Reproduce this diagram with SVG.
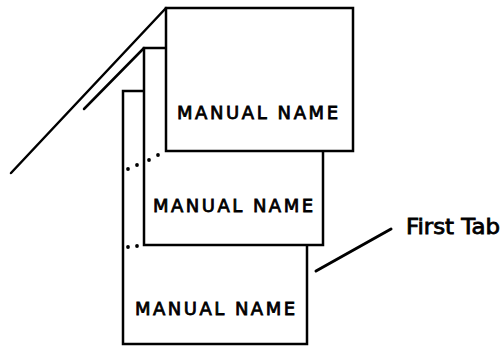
<svg xmlns="http://www.w3.org/2000/svg" width="504" height="346" viewBox="0 0 504 346">
<style>
.box{fill:#fff;stroke:#000;stroke-width:2.5}
.ln{stroke:#000;stroke-width:2.5;fill:none;stroke-linecap:round}
.lbl{font-family:"DejaVu Sans","Liberation Sans",Arial,sans-serif;font-size:18px;fill:#000;stroke:#000;stroke-width:0.8}
.dot{fill:#000}
</style>
<rect width="504" height="346" fill="#fff"/>
<g id="connectors">
<line class="ln" x1="11" y1="173" x2="166" y2="8"/>
<line class="ln" x1="84" y1="109" x2="144" y2="48"/>
<line class="ln" x1="316" y1="271" x2="391" y2="229" style="stroke-width:3"/>
</g>
<g id="tab3">
<rect class="box" x="123" y="91" width="184" height="253"/>
<text class="lbl" x="135" y="315" textLength="160" lengthAdjust="spacing">MANUAL NAME</text>
</g>
<g id="tab2">
<rect class="box" x="144" y="48" width="179" height="197"/>
<text class="lbl" x="153" y="212" textLength="160" lengthAdjust="spacing">MANUAL NAME</text>
</g>
<g id="tab1">
<rect class="box" x="166" y="8" width="187" height="143"/>
<text class="lbl" x="177" y="119" textLength="161" lengthAdjust="spacing">MANUAL NAME</text>
</g>
<g id="dots">
<circle class="dot" cx="128" cy="169" r="1.9"/>
<circle class="dot" cx="137" cy="165" r="1.9"/>
<circle class="dot" cx="149" cy="160" r="1.9"/>
<circle class="dot" cx="158" cy="155" r="1.9"/>
<circle class="dot" cx="128" cy="247" r="1.9"/>
<circle class="dot" cx="137" cy="246" r="1.9"/>
</g>
<g id="label-first-tab">
<text class="lbl" x="406" y="234" style="font-size:20.5px" textLength="94" lengthAdjust="spacingAndGlyphs">First Tab</text>
</g>
</svg>
